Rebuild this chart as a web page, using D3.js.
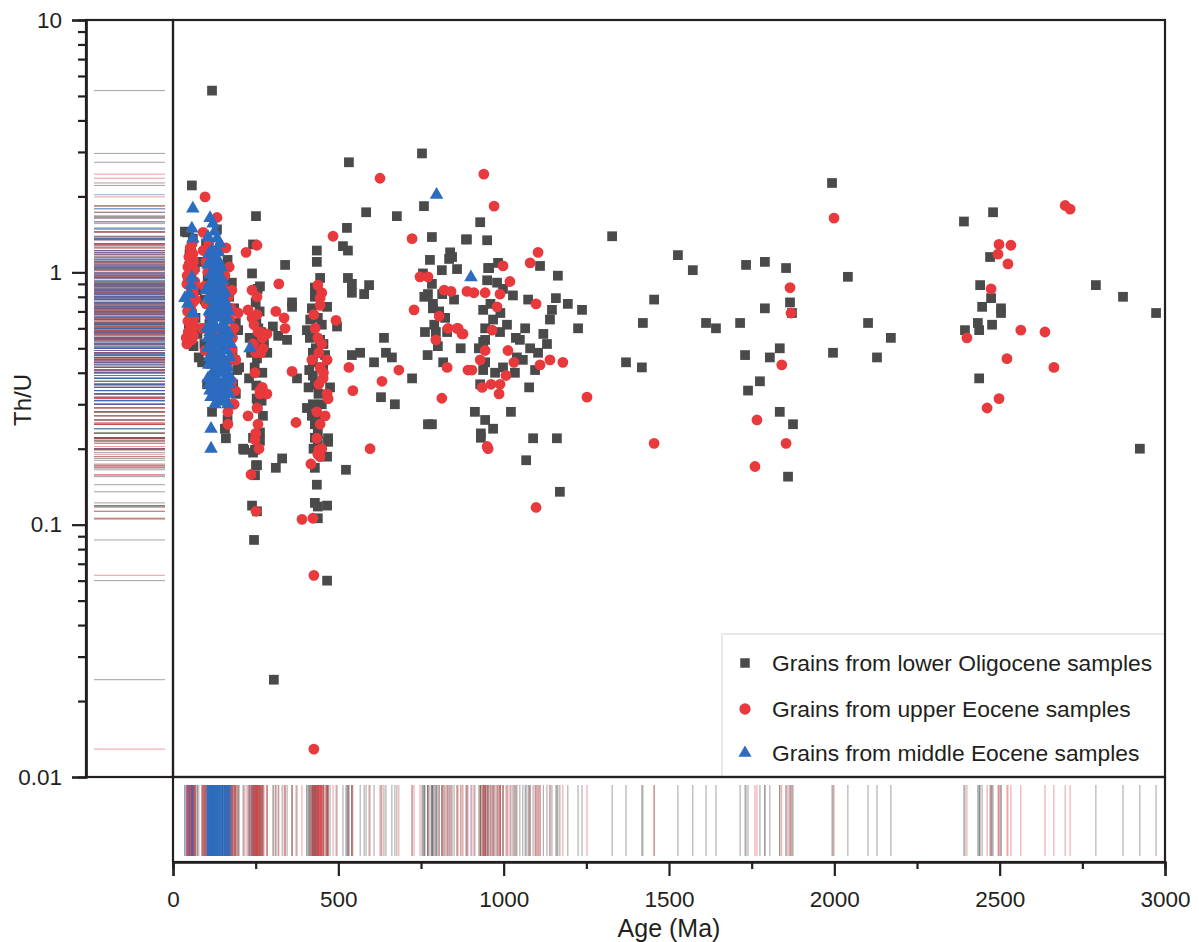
<!DOCTYPE html>
<html>
<head>
<meta charset="utf-8">
<script src="https://cdn.jsdelivr.net/npm/d3@7"></script>
<style>
  html, body { margin: 0; padding: 0; background: #fff; }
  svg { display: block; font-family: "Liberation Sans", Arial, sans-serif; }
</style>
</head>
<body>
<svg id="chart" width="1199" height="942"></svg>
<script>
// ---------------- DATA (age in Ma, Th/U) ----------------
const seriesNames = [
  "Grains from lower Oligocene samples",
  "Grains from upper Eocene samples",
  "Grains from middle Eocene samples"
];

const lowerOligocene = [
  [57,2.21],[36,1.45],[42,1.44],[60,1.36],[50,1.18],[66,1.05],[45,0.92],[72,0.85],[55,0.78],[68,0.66],[48,0.62],[74,0.57],[62,0.51],[78,0.46],
  [118,5.25],[133,1.48],[154,1.03],[178,0.91],[142,1.25],[165,1.12],[100,1.3],[88,1.1],[170,0.8],[185,0.72],[160,0.68],[190,0.63],[197,0.59],[175,0.55],[194,0.41],[88,0.44],[103,0.36],[118,0.28],[157,0.24],[160,0.22],[95,0.52],[110,0.62],[180,0.48],[186,0.45],[168,0.38],[150,0.34],[140,0.31],[172,0.3],[130,0.42],[96,0.78],[105,0.95],[125,0.88],[182,0.36],[190,0.33],[200,0.42],[165,0.26],[92,0.6],[145,0.5],[125,0.57],[135,0.72],[212,0.2],[215,0.198],
  [251,1.67],[242,1.29],[239,0.99],[263,0.88],[256,0.86],[250,0.76],[262,0.7],[245,0.66],[252,0.628],[253,0.547],[258,0.6],[254,0.456],[247,0.42],[252,0.356],[253,0.316],[256,0.291],[263,0.232],[242,0.221],[253,0.221],[263,0.215],[248,0.198],[242,0.193],[251,0.172],[254,0.172],[248,0.157],[239,0.119],[254,0.113],[245,0.087],[270,0.4],[275,0.52],[285,0.48],[268,0.31],[272,0.27],[232,0.55],[236,0.48],[230,0.38],[259,0.5],[266,0.58],
  [305,0.0243],[311,0.168],[330,0.183],[302,0.61],[318,0.56],[345,0.54],[339,1.07],[360,0.76],[360,0.73],[375,0.38],
  [435,1.22],[435,1.1],[429,0.87],[429,0.8],[420,0.72],[438,0.66],[405,0.59],[414,0.55],[445,0.54],[466,0.73],[496,0.61],[423,0.48],[423,0.44],[454,0.42],[423,0.39],[429,0.36],[475,0.35],[405,0.29],[423,0.3],[429,0.25],[438,0.23],[469,0.22],[420,0.27],[429,0.221],[438,0.215],[469,0.213],[466,0.186],[429,0.168],[435,0.144],[429,0.122],[438,0.118],[466,0.119],[438,0.106],[466,0.06],[445,0.95],[415,0.65],[450,0.62],[432,0.5],[460,0.47],[412,0.41],[440,0.33],[450,0.3],[425,0.2],[440,0.26],[410,0.35],[455,0.52],
  [532,2.73],[584,1.73],[677,1.67],[526,1.5],[514,1.27],[529,1.22],[529,0.95],[541,0.9],[541,0.83],[578,0.82],[593,0.89],[541,0.47],[566,0.48],[638,0.55],[644,0.48],[662,0.46],[608,0.44],[723,0.38],[629,0.32],[671,0.3],[523,0.165],
  [753,2.96],[759,1.83],[783,1.38],[886,1.35],[777,1.12],[813,1.02],[859,1.03],[838,1.2],[835,1.13],[844,1.15],[756,0.99],[783,0.9],[771,0.82],[786,0.75],[786,0.72],[814,0.82],[762,0.58],[795,0.58],[801,0.51],[829,0.58],[817,0.44],[823,0.66],[771,0.25],[783,0.25],[790,0.62],[805,0.7],[770,0.47],[850,0.78],[870,0.5],[760,0.8],
  [929,1.58],[889,1.35],[950,1.34],[953,1.04],[983,1.09],[956,1.04],[980,0.91],[998,0.86],[1028,0.81],[1110,1.06],[1164,0.97],[1074,0.78],[1158,0.79],[1194,0.75],[1237,0.71],[1146,0.71],[1140,0.65],[1225,0.6],[938,0.71],[968,0.65],[944,0.6],[989,0.58],[1037,0.55],[1049,0.54],[1080,0.5],[1104,0.48],[1131,0.52],[938,0.53],[944,0.54],[1040,0.46],[1058,0.45],[998,0.42],[944,0.44],[938,0.41],[974,0.4],[1034,0.4],[1095,0.41],[929,0.36],[1077,0.35],[1022,0.28],[913,0.28],[944,0.26],[968,0.24],[931,0.23],[1089,0.22],[1161,0.22],[1068,0.18],[931,0.221],[1170,0.135],[950,0.93],[960,0.75],[990,0.69],[925,0.5],[1010,0.62],[1065,0.6],[1120,0.57],
  [1328,1.39],[1421,0.63],[1370,0.44],[1418,0.42],[1455,0.78],[1527,1.17],[1572,1.02],[1612,0.63],[1642,0.6],[1733,1.07],[1730,0.47],[1739,0.34],[1775,0.37],[1790,1.1],[1790,0.72],[1715,0.63],[1805,0.46],[1835,0.5],[1835,0.28],[1854,1.04],[1860,0.155],[1866,0.76],[1872,0.69],[1875,0.25],[1993,2.26],[1996,0.48],
  [2041,0.96],[2102,0.63],[2171,0.55],[2129,0.46],[2392,1.59],[2480,1.73],[2471,1.15],[2441,0.89],[2474,0.79],[2447,0.73],[2504,0.72],[2504,0.69],[2434,0.63],[2438,0.59],[2477,0.62],[2395,0.59],[2438,0.38],[2791,0.89],[2873,0.8],[2973,0.69],[2924,0.2]
];

const upperEocene = [
  [97,1.99],[58,1.3],[55,1.22],[48,1.15],[62,1.1],[45,1.05],[58,1.0],[50,0.95],[42,0.9],[65,0.88],[55,0.85],[47,0.8],[60,0.76],[52,0.72],[44,0.7],[63,0.66],[50,0.63],[58,0.6],[46,0.58],[62,0.56],[42,0.52],[57,0.54],[53,0.68],[66,0.92],
  [52,1.25],[60,1.18],[49,1.08],[64,1.02],[54,0.98],[61,0.83],[48,0.74],[57,0.7],[45,0.64],[64,0.61],[53,0.57],[40,0.55],[68,0.78],[43,0.97],
  [133,1.65],[160,1.25],[91,1.22],[91,1.44],[100,1.1],[105,1.0],[97,0.49],[95,0.88],[100,0.75],[110,0.68],[88,0.6],[178,0.85],[157,0.97],[170,1.05],[163,0.435],[178,0.49],[178,0.37],[157,0.32],[166,0.25],[166,0.28],[188,0.34],[197,0.69],[185,0.6],[175,0.72],[180,0.55],[168,0.8],[190,0.45],[172,0.65],[150,0.9],[145,0.58],[155,0.42],[140,0.75],[120,0.85],[108,1.3],[115,0.55],[185,0.3],[125,0.4],[170,0.3],
  [221,1.2],[254,1.28],[320,0.9],[239,0.85],[254,0.8],[227,0.71],[254,0.68],[311,0.7],[336,0.66],[339,0.6],[257,0.58],[284,0.57],[242,0.52],[272,0.5],[250,0.48],[248,0.4],[263,0.33],[284,0.33],[254,0.29],[227,0.27],[257,0.25],[236,0.158],[251,0.113],[263,0.58],[270,0.55],[266,0.48],[263,0.34],[270,0.35],[245,0.62],[250,0.23],[248,0.217],[239,0.66],[260,0.2],
  [372,0.254],[360,0.405],[390,0.105],[423,0.106],[426,0.063],[426,0.0129],
  [438,0.89],[450,0.83],[445,0.79],[445,0.74],[426,0.68],[493,0.645],[438,0.55],[450,0.52],[441,0.48],[466,0.45],[445,0.42],[454,0.38],[441,0.36],[466,0.33],[469,0.316],[435,0.28],[445,0.25],[441,0.198],[438,0.19],[417,0.174],[445,0.186],[450,0.2],[430,0.6],[455,0.4],[420,0.45],[460,0.27],[435,0.22],[484,1.39],
  [626,2.36],[723,1.36],[532,0.42],[544,0.34],[632,0.37],[683,0.41],[596,0.2],
  [729,0.71],[747,0.96],[771,0.96],[805,0.67],[832,0.6],[859,0.6],[877,0.57],[820,0.85],[841,0.84],[889,0.84],[795,0.54],[829,0.42],[813,0.317],[892,0.41],[862,0.6],[874,0.57],[910,0.83],
  [940,2.45],[971,1.83],[1104,1.2],[1080,1.09],[998,1.06],[1019,0.92],[944,0.83],[989,0.82],[1098,0.75],[980,0.73],[965,0.59],[1013,0.49],[944,0.49],[929,0.45],[1031,0.44],[1140,0.45],[1179,0.44],[1110,0.43],[904,0.41],[1007,0.39],[962,0.36],[989,0.36],[986,0.33],[1252,0.32],[953,0.2],[1098,0.117],[950,0.204],[935,0.35],
  [1455,0.21],[1760,0.17],[1766,0.26],[1866,0.87],[1869,0.69],[1841,0.43],[1854,0.21],[1999,1.64],[2698,1.84],[2713,1.78],[2498,1.29],[2534,1.28],[2495,1.18],[2525,1.08],[2474,0.86],[2564,0.59],[2637,0.58],[2401,0.55],[2522,0.455],[2664,0.42],[2498,0.316],[2462,0.29]
];

const middleEocene = [
  [60,1.79],[57,1.49],[60,1.36],[57,0.955],[55,0.89],[36,0.79],[60,0.69],[50,0.82],[45,0.75],
  [112,1.64],[121,1.56],[106,1.38],[133,1.36],[118,1.22],[121,1.14],[106,1.07],[133,1.03],[151,0.93],[157,0.77],[151,0.72],[166,0.65],[157,0.58],[115,0.32],[127,0.3],[157,0.31],[166,0.3],[115,0.24],[115,0.2],[233,0.5],[797,2.03],[901,0.955],
  [118,1.0],[124,0.95],[112,0.9],[130,0.88],[120,0.84],[127,0.8],[115,0.78],[135,0.76],[122,0.73],[110,0.7],[128,0.68],[140,0.66],[118,0.64],[125,0.62],[132,0.6],[112,0.58],[120,0.56],[140,0.55],[128,0.53],[116,0.51],[135,0.5],[122,0.48],[145,0.47],[110,0.46],[130,0.45],[118,0.43],[140,0.42],[125,0.41],[150,0.4],[115,0.39],[132,0.38],[120,0.37],[145,0.36],[128,0.35],[112,0.34],[138,0.33],[160,0.34],[150,0.45],[155,0.52],[145,0.6],[148,0.82],[140,0.9],[160,0.38],[108,1.18],[128,1.1],[138,1.2],[100,0.85],[103,0.6],[170,0.36],[165,0.42],
  [142,1.3],[126,1.45],[136,1.12],[146,1.05],[114,0.98],[140,0.97],[150,0.86],[158,0.83],[162,0.74],[168,0.7],[152,0.67],[170,0.57],[175,0.52],[162,0.49],[172,0.46],[148,0.54],[106,0.55],[104,0.5],[108,0.43],[106,0.38],[110,0.36],[158,0.44],[165,0.4],[175,0.38],[155,0.35],[145,0.33],[135,0.31],[170,0.33],[122,0.34],[150,0.31],[130,0.73],[150,0.62],[160,0.6],[115,0.67],[108,0.8],[135,0.85],[125,1.05],[145,0.78],[164,0.53],[118,0.47]
];

const xTickValues = [0, 500, 1000, 1500, 2000, 2500, 3000];
const xMinorTicks = [250, 750, 1250, 1750, 2250, 2750];
const yTickValues = [0.01, 0.1, 1, 10];
const yTickLabels = ["0.01", "0.1", "1", "10"];
const xTitle = "Age (Ma)";
const yTitle = "Th/U";

// ---------------- STYLE ----------------
const colors = ["#4a4a4a", "#e8393d", "#2b6cc0"];
const rugColors = ["#555555", "#e0484c", "#2b6cc0"];
const axisColor = "#231f20";

// ---------------- LAYOUT ----------------
const P = { left: 173, right: 1165, top: 20, bottom: 777 };
const rugLeft = { x0: 86, x1: 173 };
const rugBottom = { y0: 777, y1: 862 };

const svg = d3.select("#chart");

const x = d3.scaleLinear().domain([0, 3000]).range([P.left, P.right]);
const y = d3.scaleLog().domain([0.01, 10]).range([P.bottom, P.top]);

const allSeries = [lowerOligocene, upperEocene, middleEocene];

// ---- rug lines (left: Th/U; bottom: age) ----
const rugG = svg.append("g");
allSeries.forEach((data, i) => {
  rugG.append("g").selectAll("line").data(data).join("line")
    .attr("x1", rugLeft.x0 + 8).attr("x2", rugLeft.x1 - 8)
    .attr("y1", d => y(d[1])).attr("y2", d => y(d[1]))
    .attr("stroke", rugColors[i]).attr("stroke-width", 1).attr("stroke-opacity", 0.55);
  rugG.append("g").selectAll("line").data(data).join("line")
    .attr("y1", rugBottom.y0 + 8).attr("y2", rugBottom.y1 - 6)
    .attr("x1", d => x(d[0])).attr("x2", d => x(d[0]))
    .attr("stroke", rugColors[i]).attr("stroke-width", 1).attr("stroke-opacity", 0.55);
});

// ---- scatter points ----
const sym = [
  d3.symbol().type(d3.symbolSquare).size(95),
  d3.symbol().type(d3.symbolCircle).size(92),
  d3.symbol().type(d3.symbolTriangle).size(80)
];
const ptsG = svg.append("g");
allSeries.forEach((data, i) => {
  ptsG.append("g").selectAll("path").data(data).join("path")
    .attr("d", sym[i])
    .attr("transform", d => `translate(${x(d[0])},${y(d[1])})`)
    .attr("fill", colors[i]);
});

// ---- legend ----
const lg = svg.append("g");
lg.append("rect")
  .attr("x", 722).attr("y", 634)
  .attr("width", P.right - 722).attr("height", P.bottom - 634)
  .attr("fill", "#fff").attr("stroke", "#dcdcdc").attr("stroke-width", 1.2);
const legendRows = [663, 709, 753];
const legendSym = [
  d3.symbol().type(d3.symbolSquare).size(90),
  d3.symbol().type(d3.symbolCircle).size(100),
  d3.symbol().type(d3.symbolTriangle).size(75)
];
seriesNames.forEach((name, i) => {
  lg.append("path").attr("d", legendSym[i]).attr("transform", `translate(745,${legendRows[i]})`).attr("fill", colors[i]);
  lg.append("text").attr("x", 772).attr("y", legendRows[i]).attr("dy", "0.35em")
    .attr("font-size", 22.8).attr("fill", "#231f20").text(name);
});

// ---- frames ----
const frame = svg.append("g").attr("fill", "none").attr("stroke", axisColor).attr("stroke-width", 2.2);
frame.append("rect").attr("x", P.left).attr("y", P.top).attr("width", P.right - P.left).attr("height", P.bottom - P.top);
frame.append("rect").attr("x", rugLeft.x0).attr("y", P.top).attr("width", rugLeft.x1 - rugLeft.x0).attr("height", P.bottom - P.top);
frame.append("rect").attr("x", P.left).attr("y", rugBottom.y0).attr("width", P.right - P.left).attr("height", rugBottom.y1 - rugBottom.y0);

// ---- y axis (left of rug panel) ----
const yMinor = [];
[0.01, 0.1, 1].forEach(dec => { for (let k = 2; k <= 9; k++) yMinor.push(+(dec * k).toPrecision(3)); });

const yAxisMinor = svg.append("g").attr("transform", `translate(${rugLeft.x0},0)`)
  .call(d3.axisLeft(y).tickValues(yMinor).tickSize(8).tickFormat(""));
const yAxis = svg.append("g").attr("transform", `translate(${rugLeft.x0},0)`)
  .call(d3.axisLeft(y).tickValues(yTickValues).tickSize(14).tickPadding(10)
    .tickFormat((d, i) => yTickLabels[i]));

// ---- x axis (below bottom rug panel) ----
const xAxisMinor = svg.append("g").attr("transform", `translate(0,${rugBottom.y1})`)
  .call(d3.axisBottom(x).tickValues(xMinorTicks).tickSize(7).tickFormat(""));
const xAxis = svg.append("g").attr("transform", `translate(0,${rugBottom.y1})`)
  .call(d3.axisBottom(x).tickValues(xTickValues).tickSize(14).tickPadding(15).tickFormat(d3.format("d")));

[yAxisMinor, yAxis, xAxisMinor, xAxis].forEach(g => {
  g.select(".domain").attr("stroke", axisColor).attr("stroke-width", 2.2);
  g.selectAll(".tick line").attr("stroke", axisColor).attr("stroke-width", 2.2);
  g.selectAll(".tick text").attr("fill", "#231f20").attr("font-size", 22.5)
    .attr("font-family", "'Liberation Sans', Arial, sans-serif");
});

// ---- axis titles ----
svg.append("text").attr("x", (P.left + P.right) / 2).attr("y", 937)
  .attr("text-anchor", "middle").attr("font-size", 25).attr("fill", "#231f20").text(xTitle);
svg.append("text").attr("transform", `translate(31,400) rotate(-90)`)
  .attr("text-anchor", "middle").attr("font-size", 24).attr("fill", "#231f20").text(yTitle);
</script>
</body>
</html>
